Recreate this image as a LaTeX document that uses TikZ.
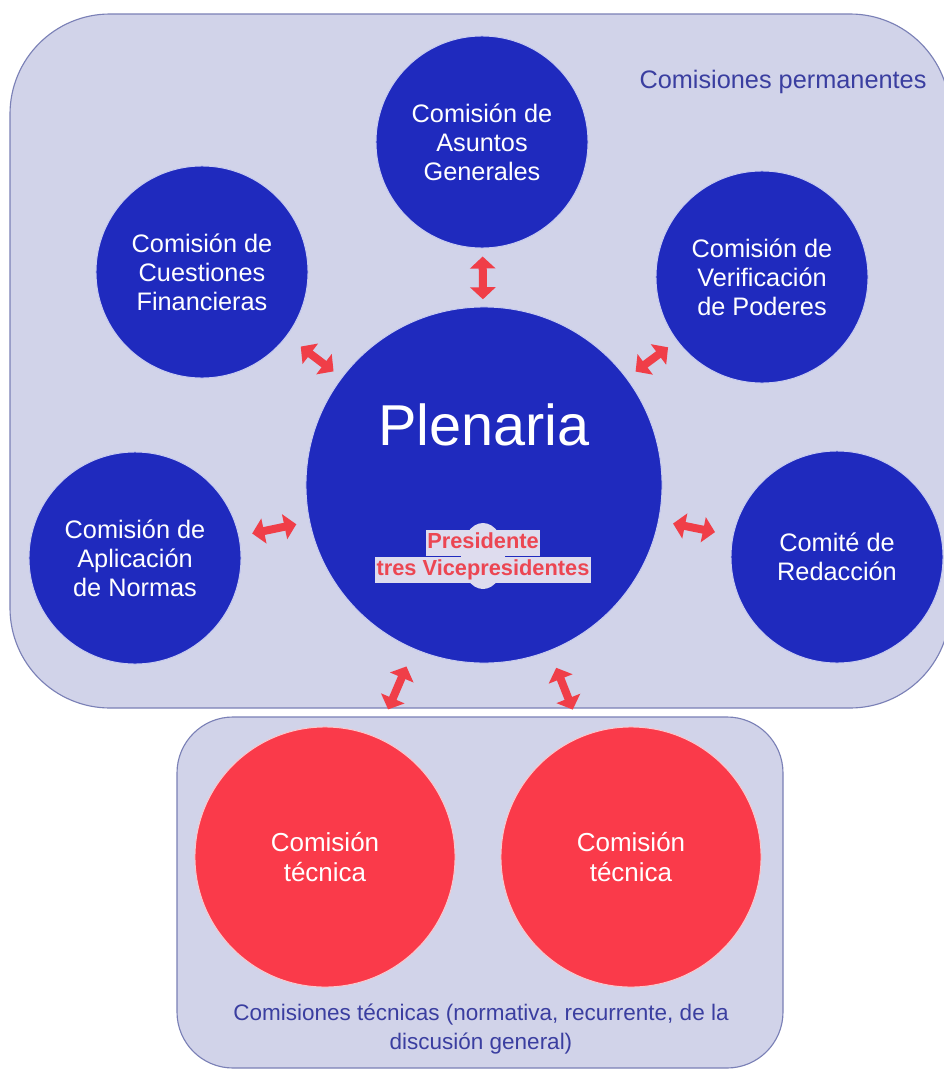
\documentclass[tikz,border=0pt]{standalone}
\usepackage{fontspec}
\setmainfont{Liberation Sans}
\usepackage{tikz}
\usetikzlibrary{arrows.meta,shapes.geometric}

\definecolor{fondo}{RGB}{209,211,233}
\definecolor{marco}{RGB}{122,128,182}
\definecolor{azul}{RGB}{31,42,190}
\definecolor{bordeazul}{RGB}{200,204,240}
\definecolor{rojo}{RGB}{250,58,74}
\definecolor{rosa}{RGB}{250,200,205}
\definecolor{flecha}{RGB}{240,62,72}
\definecolor{rotulo}{RGB}{58,62,160}
\definecolor{resalte}{RGB}{222,220,238}
\definecolor{rojotexto}{RGB}{236,70,82}

\begin{document}
\begin{tikzpicture}[x=0.025cm,y=-0.025cm]

\tikzset{panel/.style = {fill=fondo,draw=marco,line width=0.8pt}}
\tikzset{comision/.style = {shape=circle,fill=azul,draw=bordeazul,line width=0.7pt,minimum size=5.3cm,inner sep=0pt,text=white,align=center,font=\fontsize{18}{20.5}\selectfont}}
\tikzset{tecnica/.style = {shape=circle,fill=rojo,draw=rosa,line width=0.7pt,minimum size=6.5cm,inner sep=0pt,text=white,align=center,font=\fontsize{18.5}{21}\selectfont}}
\tikzset{presi/.style = {fill=resalte,text=rojotexto,inner xsep=1pt,inner ysep=1.5pt,text height=11.5pt,text depth=3.5pt,font=\bfseries\fontsize{15.5}{17}\selectfont}}
\tikzset{rotulo/.style = {text=rotulo,align=center}}
\tikzset{enlace/.style = {draw=flecha,line width=2mm,arrows={Triangle[length=3mm,width=6.25mm]-Triangle[length=3mm,width=6.25mm]}}}

\clip (0,0) rectangle (944,1072);
\fill[white] (0,0) rectangle (944,1072);

\draw[panel,rounded corners=2.5cm] (10,14) rectangle (950,708);
\draw[panel,rounded corners=1.4cm] (177,717) rectangle (783,1068);

\node[comision] (asg) at (482,142) {Comisión de\\Asuntos\\Generales};
\node[comision] (cfin) at (202,272) {Comisión de\\Cuestiones\\Financieras};
\node[comision] (vpod) at (762,277) {Comisión de\\Verificación\\de Poderes};
\node[comision] (anor) at (135,558) {Comisión de\\Aplicación\\de Normas};
\node[comision] (cred) at (837,557) {Comité de\\Redacción};
\node[comision,minimum size=8.9cm] (plen) at (484,485) {};
\node[text=white,anchor=base,font=\fontsize{41}{45}\selectfont] (ptit) at (484,445) {Plenaria};
\node[ellipse,fill=resalte,minimum width=1.1cm,minimum height=1.65cm] (mesa) at (483,556) {};
\node[presi] (pres) at (483,543) {Presidente};
\node[presi] (vice) at (483,570) {tres Vicepresidentes};

\node[tecnica] (tec1) at (325,857) {Comisión\\técnica};
\node[tecnica] (tec2) at (631,857) {Comisión\\técnica};

\node[rotulo,font=\fontsize{18}{20}\selectfont] (lperm) at (783,82) {Comisiones permanentes};
\node[rotulo,font=\fontsize{16}{20}\selectfont] (ltec) at (481,1029) {Comisiones técnicas (normativa, recurrente, de la\\discusión general)};

\draw[enlace,shorten <=0.2cm,shorten >=0.18cm] (asg) -- (plen);
\draw[enlace,shorten <=0.43cm,shorten >=0.25cm] (cfin) -- (plen);
\draw[enlace,shorten <=0.27cm,shorten >=0.27cm] (vpod) -- (plen);
\draw[enlace,shorten <=0.33cm,shorten >=0.33cm] (anor) -- (plen);
\draw[enlace,shorten <=0.45cm,shorten >=0.36cm] (cred) -- (plen);
\draw[enlace,shorten <=0.47cm,shorten >=0.75cm] (plen) -- (tec1);
\draw[enlace,shorten <=0.45cm,shorten >=0.7cm] (plen) -- (tec2);

\end{tikzpicture}
\end{document}
